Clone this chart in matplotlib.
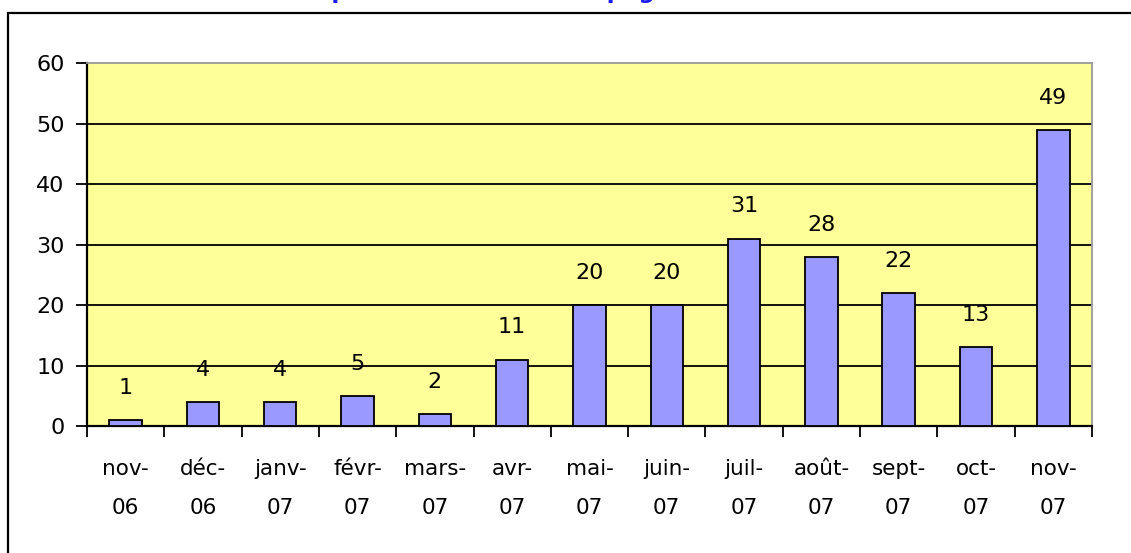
import numpy as np
import matplotlib.pyplot as plt
from matplotlib.patches import Rectangle

# données
mois = ['nov-\n06', 'déc-\n06', 'janv-\n07', 'févr-\n07', 'mars-\n07', 'avr-\n07',
        'mai-\n07', 'juin-\n07', 'juil-\n07', 'août-\n07', 'sept-\n07', 'oct-\n07', 'nov-\n07']
valeurs = [1, 4, 4, 5, 2, 11, 20, 20, 31, 28, 22, 13, 49]
titre = 'Nombre de dépôts mensuels sur la page'

plt.rcParams['font.family'] = ['DejaVu Sans']

fig = plt.figure(figsize=(11.31, 5.53), dpi=100)
ax = fig.add_axes([0.0769, 0.2297, 0.8886, 0.6555])

# cadre extérieur (coupé à droite et en bas)
fig.patches.append(Rectangle((8 / 1131, -0.1), 1.2, 0.1 + (553 - 13) / 553,
                             transform=fig.transFigure, fill=False,
                             edgecolor='black', linewidth=1.6))

# titre dont on ne voit que le bas
fig.text(150 / 1131, 1 + 2 / 553, titre, ha='left', va='baseline',
         fontsize=16.5, fontweight='bold', color='#1a1aff')

x = np.arange(len(valeurs))
ax.set_facecolor('#ffff99')
ax.bar(x, valeurs, width=0.42, color='#9999ff', edgecolor='black', linewidth=1.3, zorder=3)

for i, v in enumerate(valeurs):
    ax.annotate(str(v), (i, v), xytext=(0, 16), textcoords='offset points',
                ha='center', va='bottom', fontsize=16)

ax.set_ylim(0, 60)
ax.set_xlim(-0.5, len(valeurs) - 0.5)
ax.set_yticks(range(0, 61, 10))
for y in range(10, 60, 10):
    ax.axhline(y, color='black', linewidth=1.3, zorder=1)

ax.set_xticks(np.arange(len(valeurs) + 1) - 0.5)
ax.set_xticklabels([])
ax.set_xticks(x, minor=True)
ax.set_xticklabels(mois, minor=True, fontsize=15.5, linespacing=2.15)
ax.tick_params(axis='x', which='major', length=8, width=1.3, direction='out')
ax.tick_params(axis='x', which='minor', length=0, pad=24)
ax.tick_params(axis='y', length=8, width=1.3, labelsize=16, pad=8)

for s in ['left', 'bottom']:
    ax.spines[s].set_linewidth(1.6)
    ax.spines[s].set_color('black')
for s in ['top', 'right']:
    ax.spines[s].set_linewidth(1.3)
    ax.spines[s].set_color('#999999')

fig.savefig('out.png', dpi=100)
